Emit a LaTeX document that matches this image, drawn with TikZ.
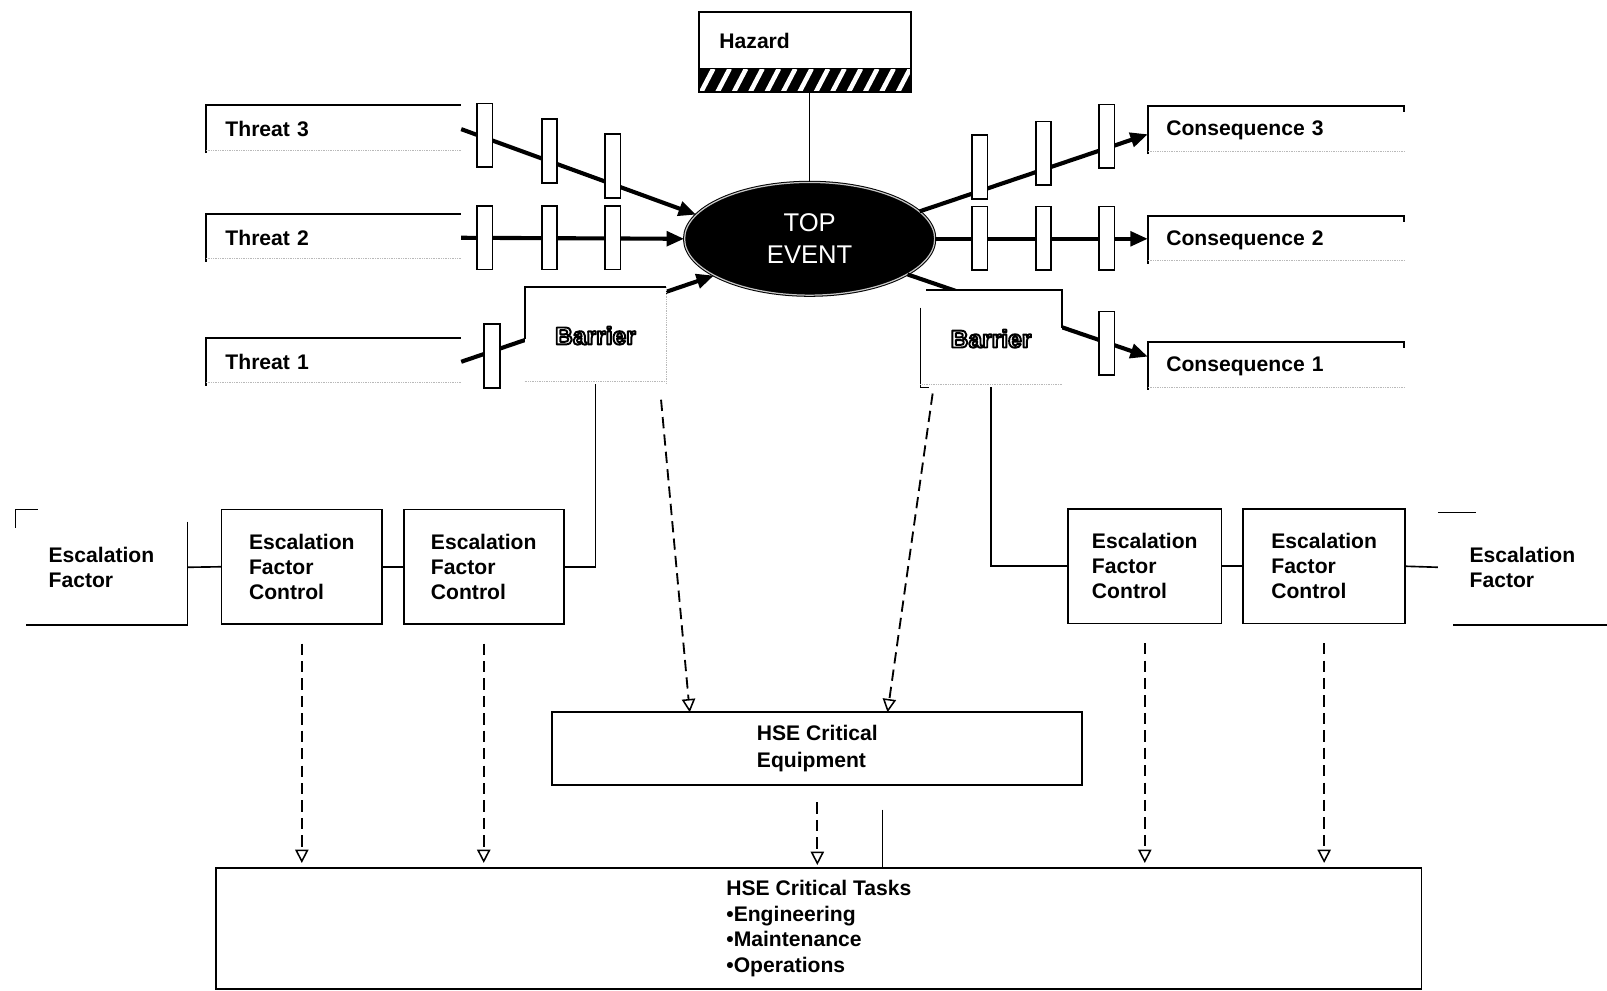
\documentclass[tikz,border=0pt]{standalone}
\usepackage{fontspec}
\setmainfont{Liberation Sans}
\usetikzlibrary{arrows.meta,shapes.geometric,calc}
\newcommand{\outlinedword}[1]{%
  \textcolor{white}{\special{pdf:literal direct 0 G 1.9 w 1 j 2 Tr}#1\special{pdf:literal direct 0 Tr}}}
\begin{document}
\begin{tikzpicture}[x=1pt,y=-1pt,
  font=\bfseries\fontsize{20.6}{24.5}\selectfont,
  bx/.style={line width=1.6pt},
  faint/.style={gray!55, line width=0.7pt, densely dotted},
  threatbox/.style={minimum width=249pt, minimum height=47pt, text width=211pt,
    inner xsep=19pt, inner ysep=0pt, outer sep=0pt, align=left},
  consbox/.style={minimum width=250pt, minimum height=47pt, text width=214pt,
    inner xsep=18pt, inner ysep=0pt, outer sep=0pt, align=left},
  bar/.style={draw, fill=white, line width=1.8pt, minimum width=15pt,
    minimum height=62pt, inner sep=0pt},
  mainarr/.style={line width=4pt, -{Triangle[length=17pt,width=14pt]}},
  plainline/.style={line width=1.6pt},
  dasharr/.style={line width=1.8pt, dash pattern=on 11pt off 6pt,
    -{Triangle[open,length=13pt,width=13pt,line width=1.5pt]}},
  efcbox/.style={draw, line width=1.6pt, minimum height=112pt, inner sep=0pt,
    outer sep=0pt, align=left},
  efbox/.style={minimum height=113pt, inner sep=0pt, outer sep=0pt, align=left},
  barrierbox/.style={fill=white, minimum width=138pt, minimum height=95pt,
    inner sep=0pt, outer sep=0pt, font=\bfseries\fontsize{24}{26}\selectfont},
  bigbox/.style={draw, line width=1.8pt, inner sep=0pt, outer sep=0pt, align=left}
]
\useasboundingbox (0,0) rectangle (1568,966);

% Hazard
\node[draw, line width=1.6pt, minimum width=207pt, minimum height=55pt,
  text width=167pt, inner xsep=20pt, inner ysep=0pt, outer sep=0pt, align=left]
  (hz) at (785.5,39.5) {Hazard};
\node[fill=black, minimum width=207pt, minimum height=23pt, inner sep=0pt, outer sep=0pt]
  (hzb) at (785.5,78.5) {};
\begin{scope}
  \clip (hzb.south west) rectangle (hzb.north east);
  \foreach \i in {0,...,13}
    \draw[white, line width=4.5pt] ($(hzb.south west)+(\i*16+2,0)$) -- ++(12,-23);
\end{scope}
\draw[line width=1.6pt] (hzb.south west) rectangle (hzb.north east);

% Top event
\node[ellipse, fill=black, draw=black, line width=1pt, double=gray!45,
  double distance=1.2pt, minimum width=244pt, minimum height=110pt, inner sep=0pt,
  text=white, align=center, font=\mdseries\fontsize{25}{31}\selectfont]
  (te) at (790,233) {TOP\\EVENT};
\draw[line width=1.3pt] (te.north) -- (te.north |- hzb.south);

% Threats
\node[threatbox] (t3) at (325.5,126) {Threat 3};
\node[threatbox] (t2) at (325.5,232) {Threat 2};
\node[threatbox] (t1) at (325.5,353) {Threat 1};
\foreach \t in {t3,t2,t1}{
  \draw[bx] (\t.south west) -- (\t.north west) -- (\t.north east);
  \draw[faint] ([yshift=3pt]\t.south west) -- ([yshift=3pt]\t.south east);
}

% Consequences
\node[consbox] (c3) at (1245,127) {Consequence 3};
\node[consbox] (c2) at (1245,234) {Consequence 2};
\node[consbox] (c1) at (1245,357) {Consequence 1};
\foreach \c in {c3,c2,c1}{
  \draw[bx] (\c.south west) -- (\c.north west) -- (\c.north east) -- ++(0,6);
  \draw[faint] ([yshift=3pt]\c.south west) -- ([yshift=3pt]\c.south east);
}

% Main arrows
\draw[mainarr] (t3.east) -- (te.168);
\draw[mainarr] (t2.east) -- (te.west);
\draw[mainarr] (t1.east) -- (te.201);
\draw[mainarr] (te.14) -- ([yshift=-4pt]c3.west);
\draw[mainarr] (te.east) -- ([yshift=1pt]c2.west);
\draw[mainarr] (te.-20) -- ([yshift=9pt]c1.west);

% Barriers on lines
\node[bar] (b31) at (473,132) {};
\node[bar] (b32) at (536,147.5) {};
\node[bar] (b33) at (598,162) {};
\node[bar] (b21) at (473,232) {};
\node[bar] (b22) at (536,232) {};
\node[bar] (b23) at (598,232) {};
\node[bar] (b11) at (480,347.5) {};
\node[bar] (k31) at (956,163) {};
\node[bar] (k32) at (1018,149.5) {};
\node[bar] (k33) at (1080,133) {};
\node[bar] (k21) at (956,232.5) {};
\node[bar] (k22) at (1018,232.5) {};
\node[bar] (k23) at (1080,232.5) {};
\node[bar] (k11) at (1080,335) {};

% Barrier callouts
\node[barrierbox] (bl) at (581,327.5) {\outlinedword{Barrier}};
\draw[bx] ($(bl.north west)!0.53!(bl.south west)$) -- (bl.north west) -- (bl.north east);
\draw[faint] (bl.north east) -- (bl.south east);
\draw[faint] ([yshift=3pt]bl.south west) -- ([yshift=3pt]bl.south east);

\node[barrierbox] (br) at (967,330.5) {\outlinedword{Barrier}};
\draw[bx] ($(br.north east)!0.39!(br.south east)$) -- (br.north east) -- ($(br.north west)+(6,0)$);
\draw[bx] ($(br.north west)!0.18!(br.south west)$) -- (br.south west) -- ($(br.south west)+(8,0)$);
\draw[faint] ([yshift=3pt]br.south west) -- ([yshift=3pt]br.south east);

% Escalation row
\node[efbox, minimum width=168pt] (efl) at (99,553.5) {Escalation\\Factor};
\draw[bx] ($(efl.north west)+(0,18)$) -- (efl.north west) -- ($(efl.north west)+(22,0)$);
\draw[bx] ($(efl.north east)+(0,12)$) -- (efl.south east) -- ($(efl.south west)+(10,0)$);
\node[efcbox, minimum width=157pt] (efc1) at (294.5,553) {Escalation\\Factor\\Control};
\node[efcbox, minimum width=156pt] (efc2) at (472,553) {Escalation\\Factor\\Control};
\node[efcbox, minimum width=150pt] (efc3) at (1117,552.5) {Escalation\\Factor\\Control};
\node[efcbox, minimum width=158pt] (efc4) at (1292,552.5) {Escalation\\Factor\\Control};
\node[efbox, minimum width=165pt] (efr) at (1485.5,553.5) {Escalation\\Factor};
\draw[bx] ($(efr.north west)+(0,3)$) -- ($(efr.north west)+(37,3)$);
\draw[bx] ($(efr.south west)+(15,0)$) -- (efr.south east);

\draw[plainline] (efl.east) -- (efc1.west);
\draw[plainline] (efc1.east) -- (efc2.west);
\draw[plainline] (efc3.east) -- (efc4.west);
\draw[plainline] (efc4.east) -- (efr.west);
\draw[plainline] (bl.south) |- (efc2.east);
\draw[plainline] (br.south) |- (efc3.west);

% HSE boxes
\node[bigbox, minimum width=517pt, minimum height=71pt,
  font=\bfseries\fontsize{20.6}{26}\selectfont] (eq) at (797.5,730.5)
  {HSE Critical\\Equipment};
\node[bigbox, minimum width=1176pt, minimum height=118pt,
  font=\bfseries\fontsize{20.6}{25}\selectfont] (tk) at (799,906)
  {HSE Critical Tasks\\\textbullet Engineering\\\textbullet Maintenance\\\textbullet Operations};

% Dashed arrows
\draw[dasharr] ($(bl.south east)+(-5,15)$) -- ($(eq.north west)+(134,0)$);
\draw[dasharr] ($(br.south west)+(12,6)$) -- ($(eq.north west)+(327,0)$);
\foreach \e in {efc1,efc2,efc3,efc4}
  \draw[dasharr] ([yshift=-19pt]\e.south) -- ([yshift=5pt]\e.south |- tk.north);
\draw[dasharr] ([yshift=-17pt]eq.south) -- ([yshift=3pt]eq.south |- tk.north);
\coordinate (sl) at (861,790);
\draw[line width=1pt] (sl) -- (sl |- tk.north);
\end{tikzpicture}
\end{document}
